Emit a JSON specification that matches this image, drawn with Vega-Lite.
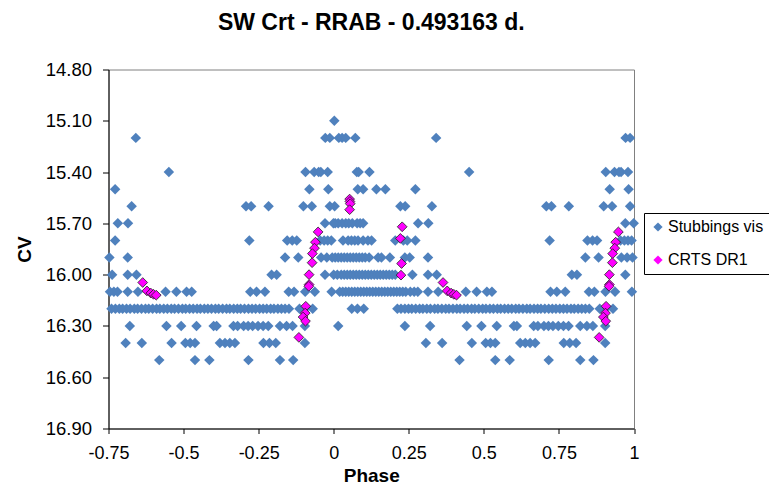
{
"$schema":"https://vega.github.io/schema/vega-lite/v6.json",
"width":525.5,"height":359,
"autosize":{"type":"none"},
"padding":{"left":108.5,"top":69.5,"right":135,"bottom":69.5},
"background":"white",
"config":{"font":"Liberation Sans","view":{"stroke":"#808080","strokeWidth":1}},
"title":{"text":"SW Crt - RRAB - 0.493163 d.","fontSize":23,"fontWeight":"bold","color":"black","anchor":"middle","offset":26},
"datasets":{
"vis":[
{"phase":0.002,"cv":15.1},
{"phase":0.017,"cv":15.2},{"phase":0.028,"cv":15.2},{"phase":0.04,"cv":15.2},{"phase":0.072,"cv":15.2},{"phase":0.341,"cv":15.2},{"phase":0.972,"cv":15.2},{"phase":0.987,"cv":15.2},
{"phase":-0.659,"cv":15.2},{"phase":-0.028,"cv":15.2},{"phase":-0.013,"cv":15.2},
{"phase":0.077,"cv":15.4},{"phase":0.083,"cv":15.4},{"phase":0.119,"cv":15.4},{"phase":0.451,"cv":15.4},{"phase":0.906,"cv":15.4},{"phase":0.935,"cv":15.4},{"phase":0.95,"cv":15.4},{"phase":0.957,"cv":15.4},{"phase":0.98,"cv":15.4},
{"phase":-0.549,"cv":15.4},{"phase":-0.094,"cv":15.4},{"phase":-0.065,"cv":15.4},{"phase":-0.05,"cv":15.4},{"phase":-0.043,"cv":15.4},{"phase":-0.02,"cv":15.4},
{"phase":0.08,"cv":15.5},{"phase":0.098,"cv":15.5},{"phase":0.142,"cv":15.5},{"phase":0.172,"cv":15.5},{"phase":0.272,"cv":15.5},{"phase":0.919,"cv":15.5},{"phase":0.982,"cv":15.5},
{"phase":-0.728,"cv":15.5},{"phase":-0.081,"cv":15.5},{"phase":-0.018,"cv":15.5},
{"phase":0.003,"cv":15.6},{"phase":0.222,"cv":15.6},{"phase":0.238,"cv":15.6},{"phase":0.327,"cv":15.6},{"phase":0.708,"cv":15.6},{"phase":0.725,"cv":15.6},{"phase":0.783,"cv":15.6},{"phase":0.899,"cv":15.6},{"phase":0.927,"cv":15.6},{"phase":0.987,"cv":15.6},
{"phase":-0.673,"cv":15.6},{"phase":-0.292,"cv":15.6},{"phase":-0.275,"cv":15.6},{"phase":-0.217,"cv":15.6},{"phase":-0.101,"cv":15.6},{"phase":-0.073,"cv":15.6},{"phase":-0.013,"cv":15.6},
{"phase":0.005,"cv":15.7},{"phase":0.015,"cv":15.7},{"phase":0.028,"cv":15.7},{"phase":0.04,"cv":15.7},{"phase":0.05,"cv":15.7},{"phase":0.062,"cv":15.7},{"phase":0.078,"cv":15.7},{"phase":0.088,"cv":15.7},{"phase":0.098,"cv":15.7},{"phase":0.281,"cv":15.7},{"phase":0.315,"cv":15.7},{"phase":0.971,"cv":15.7},{"phase":0.999,"cv":15.7},
{"phase":-0.719,"cv":15.7},{"phase":-0.685,"cv":15.7},{"phase":-0.029,"cv":15.7},{"phase":-0.001,"cv":15.7},
{"phase":0.031,"cv":15.8},{"phase":0.048,"cv":15.8},{"phase":0.059,"cv":15.8},{"phase":0.07,"cv":15.8},{"phase":0.081,"cv":15.8},{"phase":0.098,"cv":15.8},{"phase":0.114,"cv":15.8},{"phase":0.126,"cv":15.8},{"phase":0.205,"cv":15.8},{"phase":0.232,"cv":15.8},{"phase":0.245,"cv":15.8},{"phase":0.272,"cv":15.8},{"phase":0.719,"cv":15.8},{"phase":0.845,"cv":15.8},{"phase":0.862,"cv":15.8},{"phase":0.877,"cv":15.8},{"phase":0.955,"cv":15.8},{"phase":0.968,"cv":15.8},{"phase":0.98,"cv":15.8},{"phase":0.992,"cv":15.8},
{"phase":-0.728,"cv":15.8},{"phase":-0.281,"cv":15.8},{"phase":-0.155,"cv":15.8},{"phase":-0.138,"cv":15.8},{"phase":-0.123,"cv":15.8},{"phase":-0.045,"cv":15.8},{"phase":-0.032,"cv":15.8},{"phase":-0.02,"cv":15.8},{"phase":-0.008,"cv":15.8},
{"phase":0.005,"cv":15.9},{"phase":0.015,"cv":15.9},{"phase":0.025,"cv":15.9},{"phase":0.035,"cv":15.9},{"phase":0.045,"cv":15.9},{"phase":0.055,"cv":15.9},{"phase":0.065,"cv":15.9},{"phase":0.075,"cv":15.9},{"phase":0.085,"cv":15.9},{"phase":0.095,"cv":15.9},{"phase":0.105,"cv":15.9},{"phase":0.118,"cv":15.9},{"phase":0.148,"cv":15.9},{"phase":0.159,"cv":15.9},{"phase":0.187,"cv":15.9},{"phase":0.237,"cv":15.9},{"phase":0.253,"cv":15.9},{"phase":0.314,"cv":15.9},{"phase":0.838,"cv":15.9},{"phase":0.882,"cv":15.9},{"phase":0.958,"cv":15.9},{"phase":0.977,"cv":15.9},{"phase":0.995,"cv":15.9},
{"phase":-0.747,"cv":15.9},{"phase":-0.686,"cv":15.9},{"phase":-0.162,"cv":15.9},{"phase":-0.118,"cv":15.9},{"phase":-0.042,"cv":15.9},{"phase":-0.023,"cv":15.9},{"phase":-0.005,"cv":15.9},
{"phase":0.0,"cv":16.0},{"phase":0.012,"cv":16.0},{"phase":0.025,"cv":16.0},{"phase":0.035,"cv":16.0},{"phase":0.045,"cv":16.0},{"phase":0.055,"cv":16.0},{"phase":0.065,"cv":16.0},{"phase":0.075,"cv":16.0},{"phase":0.085,"cv":16.0},{"phase":0.095,"cv":16.0},{"phase":0.105,"cv":16.0},{"phase":0.115,"cv":16.0},{"phase":0.125,"cv":16.0},{"phase":0.135,"cv":16.0},{"phase":0.145,"cv":16.0},{"phase":0.155,"cv":16.0},{"phase":0.165,"cv":16.0},{"phase":0.175,"cv":16.0},{"phase":0.185,"cv":16.0},{"phase":0.195,"cv":16.0},{"phase":0.205,"cv":16.0},{"phase":0.262,"cv":16.0},{"phase":0.314,"cv":16.0},{"phase":0.343,"cv":16.0},{"phase":0.793,"cv":16.0},{"phase":0.81,"cv":16.0},{"phase":0.971,"cv":16.0},
{"phase":-0.738,"cv":16.0},{"phase":-0.686,"cv":16.0},{"phase":-0.657,"cv":16.0},{"phase":-0.207,"cv":16.0},{"phase":-0.19,"cv":16.0},{"phase":-0.029,"cv":16.0},
{"phase":0.02,"cv":16.1},{"phase":0.03,"cv":16.1},{"phase":0.04,"cv":16.1},{"phase":0.05,"cv":16.1},{"phase":0.06,"cv":16.1},{"phase":0.07,"cv":16.1},{"phase":0.08,"cv":16.1},{"phase":0.09,"cv":16.1},{"phase":0.1,"cv":16.1},{"phase":0.11,"cv":16.1},{"phase":0.12,"cv":16.1},{"phase":0.13,"cv":16.1},{"phase":0.14,"cv":16.1},{"phase":0.15,"cv":16.1},{"phase":0.16,"cv":16.1},{"phase":0.17,"cv":16.1},{"phase":0.18,"cv":16.1},{"phase":0.19,"cv":16.1},{"phase":0.2,"cv":16.1},{"phase":0.21,"cv":16.1},{"phase":0.22,"cv":16.1},{"phase":0.23,"cv":16.1},{"phase":0.24,"cv":16.1},{"phase":0.255,"cv":16.1},{"phase":0.268,"cv":16.1},{"phase":0.28,"cv":16.1},{"phase":0.314,"cv":16.1},{"phase":0.348,"cv":16.1},{"phase":0.44,"cv":16.1},{"phase":0.476,"cv":16.1},{"phase":0.51,"cv":16.1},{"phase":0.527,"cv":16.1},{"phase":0.722,"cv":16.1},{"phase":0.743,"cv":16.1},{"phase":0.771,"cv":16.1},{"phase":0.85,"cv":16.1},{"phase":0.868,"cv":16.1},{"phase":0.905,"cv":16.1},{"phase":0.937,"cv":16.1},{"phase":0.993,"cv":16.1},
{"phase":-0.745,"cv":16.1},{"phase":-0.732,"cv":16.1},{"phase":-0.72,"cv":16.1},{"phase":-0.686,"cv":16.1},{"phase":-0.652,"cv":16.1},{"phase":-0.56,"cv":16.1},{"phase":-0.524,"cv":16.1},{"phase":-0.49,"cv":16.1},{"phase":-0.473,"cv":16.1},{"phase":-0.278,"cv":16.1},{"phase":-0.257,"cv":16.1},{"phase":-0.229,"cv":16.1},{"phase":-0.15,"cv":16.1},{"phase":-0.132,"cv":16.1},{"phase":-0.095,"cv":16.1},{"phase":-0.063,"cv":16.1},{"phase":-0.007,"cv":16.1},
{"phase":0.06,"cv":16.2},{"phase":0.079,"cv":16.2},{"phase":0.1,"cv":16.2},{"phase":0.212,"cv":16.2},{"phase":0.224,"cv":16.2},{"phase":0.237,"cv":16.2},{"phase":0.249,"cv":16.2},{"phase":0.26,"cv":16.2},{"phase":0.273,"cv":16.2},{"phase":0.286,"cv":16.2},{"phase":0.297,"cv":16.2},{"phase":0.31,"cv":16.2},{"phase":0.322,"cv":16.2},{"phase":0.336,"cv":16.2},{"phase":0.347,"cv":16.2},{"phase":0.36,"cv":16.2},{"phase":0.373,"cv":16.2},{"phase":0.384,"cv":16.2},{"phase":0.397,"cv":16.2},{"phase":0.41,"cv":16.2},{"phase":0.421,"cv":16.2},{"phase":0.434,"cv":16.2},{"phase":0.446,"cv":16.2},{"phase":0.459,"cv":16.2},{"phase":0.47,"cv":16.2},{"phase":0.483,"cv":16.2},{"phase":0.496,"cv":16.2},{"phase":0.507,"cv":16.2},{"phase":0.52,"cv":16.2},{"phase":0.532,"cv":16.2},{"phase":0.545,"cv":16.2},{"phase":0.556,"cv":16.2},{"phase":0.569,"cv":16.2},{"phase":0.581,"cv":16.2},{"phase":0.593,"cv":16.2},{"phase":0.606,"cv":16.2},{"phase":0.617,"cv":16.2},{"phase":0.63,"cv":16.2},{"phase":0.643,"cv":16.2},{"phase":0.654,"cv":16.2},{"phase":0.667,"cv":16.2},{"phase":0.679,"cv":16.2},{"phase":0.69,"cv":16.2},{"phase":0.703,"cv":16.2},{"phase":0.716,"cv":16.2},{"phase":0.728,"cv":16.2},{"phase":0.74,"cv":16.2},{"phase":0.753,"cv":16.2},{"phase":0.765,"cv":16.2},{"phase":0.777,"cv":16.2},{"phase":0.79,"cv":16.2},{"phase":0.801,"cv":16.2},{"phase":0.814,"cv":16.2},{"phase":0.826,"cv":16.2},{"phase":0.838,"cv":16.2},{"phase":0.851,"cv":16.2},{"phase":0.886,"cv":16.2},{"phase":0.905,"cv":16.2},{"phase":0.93,"cv":16.2},
{"phase":-0.74,"cv":16.2},{"phase":-0.727,"cv":16.2},{"phase":-0.714,"cv":16.2},{"phase":-0.703,"cv":16.2},{"phase":-0.69,"cv":16.2},{"phase":-0.678,"cv":16.2},{"phase":-0.664,"cv":16.2},{"phase":-0.653,"cv":16.2},{"phase":-0.64,"cv":16.2},{"phase":-0.627,"cv":16.2},{"phase":-0.616,"cv":16.2},{"phase":-0.603,"cv":16.2},{"phase":-0.59,"cv":16.2},{"phase":-0.579,"cv":16.2},{"phase":-0.566,"cv":16.2},{"phase":-0.554,"cv":16.2},{"phase":-0.541,"cv":16.2},{"phase":-0.53,"cv":16.2},{"phase":-0.517,"cv":16.2},{"phase":-0.504,"cv":16.2},{"phase":-0.493,"cv":16.2},{"phase":-0.48,"cv":16.2},{"phase":-0.468,"cv":16.2},{"phase":-0.455,"cv":16.2},{"phase":-0.444,"cv":16.2},{"phase":-0.431,"cv":16.2},{"phase":-0.419,"cv":16.2},{"phase":-0.407,"cv":16.2},{"phase":-0.394,"cv":16.2},{"phase":-0.383,"cv":16.2},{"phase":-0.37,"cv":16.2},{"phase":-0.357,"cv":16.2},{"phase":-0.346,"cv":16.2},{"phase":-0.333,"cv":16.2},{"phase":-0.321,"cv":16.2},{"phase":-0.31,"cv":16.2},{"phase":-0.297,"cv":16.2},{"phase":-0.284,"cv":16.2},{"phase":-0.272,"cv":16.2},{"phase":-0.26,"cv":16.2},{"phase":-0.247,"cv":16.2},{"phase":-0.235,"cv":16.2},{"phase":-0.223,"cv":16.2},{"phase":-0.21,"cv":16.2},{"phase":-0.199,"cv":16.2},{"phase":-0.186,"cv":16.2},{"phase":-0.174,"cv":16.2},{"phase":-0.162,"cv":16.2},{"phase":-0.149,"cv":16.2},{"phase":-0.114,"cv":16.2},{"phase":-0.095,"cv":16.2},{"phase":-0.07,"cv":16.2},
{"phase":0.015,"cv":16.3},{"phase":0.237,"cv":16.3},{"phase":0.321,"cv":16.3},{"phase":0.443,"cv":16.3},{"phase":0.492,"cv":16.3},{"phase":0.543,"cv":16.3},{"phase":0.6,"cv":16.3},{"phase":0.61,"cv":16.3},{"phase":0.666,"cv":16.3},{"phase":0.68,"cv":16.3},{"phase":0.7,"cv":16.3},{"phase":0.715,"cv":16.3},{"phase":0.73,"cv":16.3},{"phase":0.748,"cv":16.3},{"phase":0.765,"cv":16.3},{"phase":0.782,"cv":16.3},{"phase":0.821,"cv":16.3},{"phase":0.843,"cv":16.3},{"phase":0.863,"cv":16.3},{"phase":0.904,"cv":16.3},
{"phase":-0.679,"cv":16.3},{"phase":-0.557,"cv":16.3},{"phase":-0.508,"cv":16.3},{"phase":-0.457,"cv":16.3},{"phase":-0.4,"cv":16.3},{"phase":-0.39,"cv":16.3},{"phase":-0.334,"cv":16.3},{"phase":-0.32,"cv":16.3},{"phase":-0.3,"cv":16.3},{"phase":-0.285,"cv":16.3},{"phase":-0.27,"cv":16.3},{"phase":-0.252,"cv":16.3},{"phase":-0.235,"cv":16.3},{"phase":-0.218,"cv":16.3},{"phase":-0.179,"cv":16.3},{"phase":-0.157,"cv":16.3},{"phase":-0.137,"cv":16.3},{"phase":-0.096,"cv":16.3},
{"phase":0.307,"cv":16.4},{"phase":0.361,"cv":16.4},{"phase":0.46,"cv":16.4},{"phase":0.506,"cv":16.4},{"phase":0.522,"cv":16.4},{"phase":0.538,"cv":16.4},{"phase":0.621,"cv":16.4},{"phase":0.638,"cv":16.4},{"phase":0.654,"cv":16.4},{"phase":0.671,"cv":16.4},{"phase":0.766,"cv":16.4},{"phase":0.786,"cv":16.4},{"phase":0.807,"cv":16.4},{"phase":0.904,"cv":16.4},
{"phase":-0.693,"cv":16.4},{"phase":-0.639,"cv":16.4},{"phase":-0.54,"cv":16.4},{"phase":-0.494,"cv":16.4},{"phase":-0.478,"cv":16.4},{"phase":-0.462,"cv":16.4},{"phase":-0.379,"cv":16.4},{"phase":-0.362,"cv":16.4},{"phase":-0.346,"cv":16.4},{"phase":-0.329,"cv":16.4},{"phase":-0.234,"cv":16.4},{"phase":-0.214,"cv":16.4},{"phase":-0.193,"cv":16.4},{"phase":-0.096,"cv":16.4},
{"phase":0.419,"cv":16.5},{"phase":0.538,"cv":16.5},{"phase":0.586,"cv":16.5},{"phase":0.716,"cv":16.5},{"phase":0.821,"cv":16.5},{"phase":0.865,"cv":16.5},
{"phase":-0.581,"cv":16.5},{"phase":-0.462,"cv":16.5},{"phase":-0.414,"cv":16.5},{"phase":-0.284,"cv":16.5},{"phase":-0.179,"cv":16.5},{"phase":-0.135,"cv":16.5}
],
"crts":[
{"phase":0.053,"cv":15.558},{"phase":0.054,"cv":15.572},{"phase":0.055,"cv":15.585},{"phase":0.053,"cv":15.62},
{"phase":0.228,"cv":15.72},{"phase":0.222,"cv":15.788},{"phase":0.226,"cv":15.935},{"phase":0.224,"cv":16.003},
{"phase":0.364,"cv":16.046},{"phase":0.378,"cv":16.095},{"phase":0.391,"cv":16.108},{"phase":0.4,"cv":16.115},{"phase":0.409,"cv":16.12},
{"phase":0.948,"cv":15.75},{"phase":0.939,"cv":15.81},{"phase":0.936,"cv":15.845},{"phase":0.929,"cv":15.877},{"phase":0.928,"cv":15.93},{"phase":0.918,"cv":16.0},{"phase":0.918,"cv":16.058},{"phase":0.917,"cv":16.068},{"phase":0.907,"cv":16.185},{"phase":0.905,"cv":16.225},{"phase":0.898,"cv":16.248},{"phase":0.906,"cv":16.272},{"phase":0.884,"cv":16.367},
{"phase":-0.636,"cv":16.046},{"phase":-0.622,"cv":16.095},{"phase":-0.609,"cv":16.108},{"phase":-0.6,"cv":16.115},{"phase":-0.591,"cv":16.12},
{"phase":-0.052,"cv":15.75},{"phase":-0.061,"cv":15.81},{"phase":-0.064,"cv":15.845},{"phase":-0.071,"cv":15.877},{"phase":-0.072,"cv":15.93},{"phase":-0.082,"cv":16.0},{"phase":-0.082,"cv":16.058},{"phase":-0.083,"cv":16.068},{"phase":-0.093,"cv":16.185},{"phase":-0.095,"cv":16.225},{"phase":-0.102,"cv":16.248},{"phase":-0.094,"cv":16.272},{"phase":-0.116,"cv":16.367}
]
},
"encoding":{
"x":{"field":"phase","type":"quantitative","scale":{"domain":[-0.75,1],"nice":false,"zero":false},
 "axis":{"values":[-0.75,-0.5,-0.25,0,0.25,0.5,0.75,1],"labelExpr":"''+datum.value","grid":false,"domainColor":"black","tickColor":"black","tickSize":5,"labelPadding":11,"labelFontSize":18,"labelColor":"black","labelFlush":false,"labelOverlap":false,"title":"Phase","titleFontSize":19,"titleFontWeight":"bold","titleColor":"black","titleY":53.3,"titleBaseline":"alphabetic"}},
"y":{"field":"cv","type":"quantitative","scale":{"domain":[14.8,16.9],"nice":false,"zero":false,"reverse":true},
 "axis":{"values":[14.8,15.1,15.4,15.7,16.0,16.3,16.6,16.9],"format":".2f","grid":false,"domainColor":"black","tickColor":"black","tickSize":6,"labelPadding":11,"labelFontSize":18.5,"labelColor":"black","labelFlush":false,"labelOverlap":false,"title":"CV","titleFontSize":19,"titleFontWeight":"bold","titleColor":"black","titleX":-78.5,"titleAngle":270,"titleBaseline":"alphabetic"}}
},
"layer":[
{"data":{"name":"vis"},"mark":{"type":"point","shape":"diamond","filled":true,"size":110,"opacity":1},
 "encoding":{"color":{"datum":"Stubbings vis","type":"nominal","scale":{"domain":["Stubbings vis","CRTS DR1"],"range":["#4F81BD","#FF00FF"]},
  "legend":{"orient":"none","legendX":535.5,"legendY":143.5,"title":null,"strokeColor":"black","fillColor":"white","padding":6,"labelFontSize":16,"labelColor":"black","symbolSize":85,"symbolType":"diamond","rowPadding":17,"labelOffset":2,"symbolStrokeWidth":0.8,
   "encode":{"symbols":{"update":{"stroke":{"signal":"datum.value === 'CRTS DR1' ? '#202020' : '#4F81BD'"},"strokeWidth":{"value":0.8}}}}}}}},
{"data":{"name":"crts"},"mark":{"type":"point","shape":"diamond","filled":true,"size":95,"opacity":1,"stroke":"#202020","strokeWidth":0.8},
 "encoding":{"color":{"datum":"CRTS DR1","type":"nominal"}}}
]
}
